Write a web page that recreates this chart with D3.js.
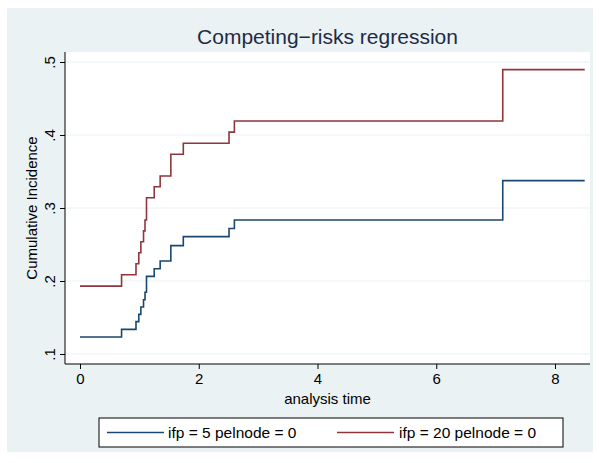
<!DOCTYPE html>
<html><head><meta charset="utf-8">
<script src="https://cdn.jsdelivr.net/npm/d3@7"></script>
<style>body{margin:0;background:#fff}svg{display:block;font-family:"Liberation Sans",Arial,sans-serif}</style>
</head><body><div id="chart"></div>
<script>
// step-function data: times where the curve jumps, level after each jump
const times = [0, 0.70, 0.943, 0.99, 1.025, 1.07, 1.095, 1.12, 1.25, 1.35, 1.53, 1.74, 2.51, 2.60, 7.12, 8.5];
const blue = [0.1233, 0.1338, 0.1443, 0.1543, 0.1644, 0.1744, 0.1845, 0.2064, 0.2168, 0.2274, 0.2484, 0.2608, 0.272, 0.2836, 0.3375, 0.3375];
const red  = [0.193, 0.2086, 0.2237, 0.2387, 0.2538, 0.2686, 0.2836, 0.3141, 0.3292, 0.3438, 0.3736, 0.3886, 0.404, 0.4192, 0.4895, 0.4895];
const xTicks = [0, 2, 4, 6, 8];
const yTicks = [0.1, 0.2, 0.3, 0.4, 0.5];
const seriesNames = ["ifp = 5 pelnode = 0", "ifp = 20 pelnode = 0"];
const colors = ["#1a476f", "#90353b"];

const W = 599, H = 463;
const svg = d3.select("#chart").append("svg").attr("width", W).attr("height", H);
svg.append("rect").attr("x", 7).attr("y", 8).attr("width", 586).attr("height", 444).attr("fill", "#eaf2f3");

const L = 65, R = 590, T = 52, B = 364;
svg.append("rect").attr("x", L).attr("y", T).attr("width", R - L).attr("height", B - T).attr("fill", "#fff");

const x = d3.scaleLinear().domain([0, 8]).range([80, 555]);
const y = d3.scaleLinear().domain([0.1, 0.5]).range([354, 62]);

// grid
svg.selectAll(".grid").data(yTicks).join("line")
  .attr("x1", L).attr("x2", R).attr("y1", d => y(d)).attr("y2", d => y(d))
  .attr("stroke", "#eaf2f3").attr("stroke-width", 1.2);

// axes
const xa = svg.append("g").attr("transform", `translate(0,${B})`)
  .call(d3.axisBottom(x).tickValues(xTicks).tickSize(5).tickPadding(4).tickFormat(d3.format("d")));
xa.select(".domain").attr("d", `M${L},0H${R}`);
const ya = svg.append("g").attr("transform", `translate(${L},0)`)
  .call(d3.axisLeft(y).tickValues(yTicks).tickSize(5).tickFormat(d => String(d).replace("0.", ".")));
ya.select(".domain").attr("d", `M0,${T}V${B}`);
svg.selectAll(".tick text").attr("font-size", 15).attr("fill", "#000");
ya.selectAll(".tick text").attr("text-anchor", "middle")
  .attr("transform", "translate(-15,0) rotate(-90)").attr("x", 0).attr("y", 0).attr("dy", "0.35em");

// lines
const line = d3.line().x(d => x(d[0])).y(d => y(d[1])).curve(d3.curveStepAfter);
[blue, red].forEach((s, i) => {
  svg.append("path").datum(times.map((t, j) => [t, s[j]]))
    .attr("d", line).attr("fill", "none").attr("stroke", colors[i]).attr("stroke-width", 1.6);
});

// titles
svg.append("text").attr("x", (L + R) / 2).attr("y", 44).attr("text-anchor", "middle")
  .attr("font-size", 21).attr("fill", "#1e2b48").text("Competing−risks regression");
svg.append("text").attr("x", (L + R) / 2).attr("y", 404).attr("text-anchor", "middle")
  .attr("font-size", 15).text("analysis time");
svg.append("text").attr("transform", `translate(37,${(T + B) / 2}) rotate(-90)`).attr("text-anchor", "middle")
  .attr("font-size", 15).text("Cumulative Incidence");

// legend
svg.append("rect").attr("x", 99).attr("y", 418).attr("width", 464).attr("height", 29)
  .attr("fill", "#fff").attr("stroke", "#000");
[[107, 168], [337, 399]].forEach((p, i) => {
  svg.append("line").attr("x1", p[0]).attr("x2", p[0] + 57).attr("y1", 432.5).attr("y2", 432.5)
    .attr("stroke", colors[i]).attr("stroke-width", 1.6);
  svg.append("text").attr("x", p[1]).attr("y", 438).attr("font-size", 15.5).text(seriesNames[i]);
});
</script></body></html>
